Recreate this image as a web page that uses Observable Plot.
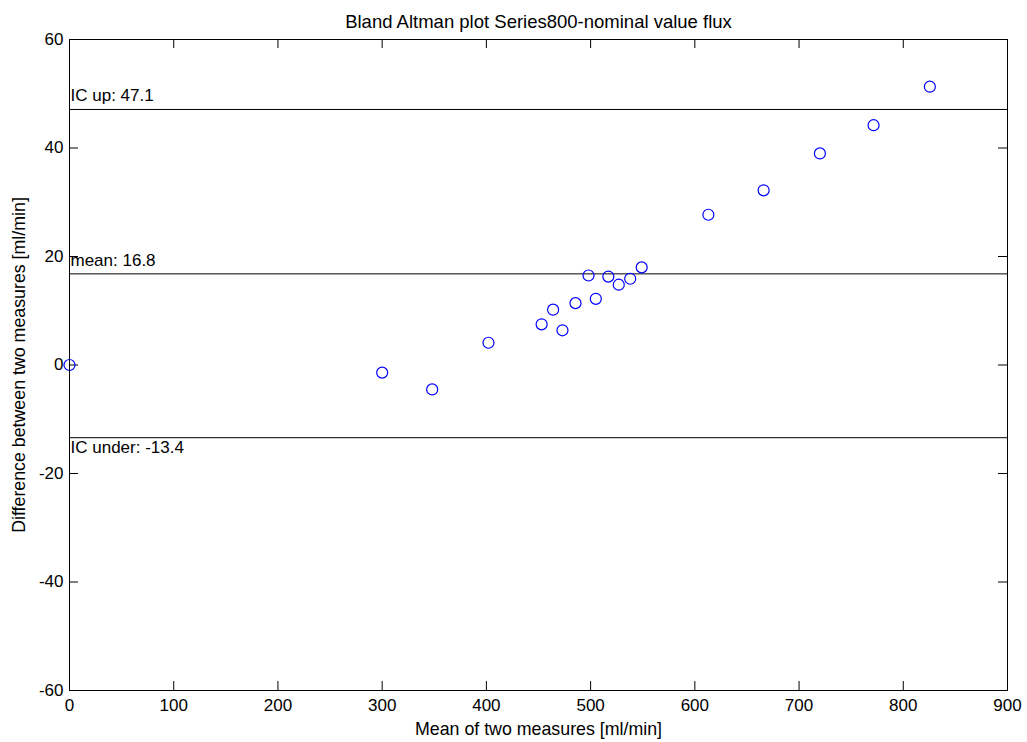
<!DOCTYPE html>
<html><head><meta charset="utf-8">
<script src="https://cdn.jsdelivr.net/npm/d3@7"></script>
<script src="https://cdn.jsdelivr.net/npm/@observablehq/plot@0.6"></script>
<style>body{margin:0;background:#fff}</style>
</head><body><div id="chart"></div>
<script>
const titleText = "Bland Altman plot Series800-nominal value flux";
const xLabel = "Mean of two measures [ml/min]";
const yLabel = "Difference between two measures [ml/min]";
const meanValues = [0, 300, 348, 402, 453, 464, 473, 485.5, 498, 505, 517, 527, 538, 549, 613, 666, 720, 771.5, 825.5];
const diffValues = [0, -1.4, -4.5, 4.1, 7.5, 10.2, 6.4, 11.4, 16.5, 12.2, 16.3, 14.8, 15.9, 18.0, 27.7, 32.2, 39.0, 44.2, 51.3];
const limitNames = ["IC up", "mean", "IC under"];
const limitValues = [47.1, 16.8, -13.4];
const xTicks = [0, 100, 200, 300, 400, 500, 600, 700, 800, 900];
const yTicks = [-60, -40, -20, 0, 20, 40, 60];

const W = 1027, H = 742, mL = 69, mR = 20, mT = 39, mB = 52;
const pw = W - mL - mR, ph = H - mT - mB, tk = 9;

const pts = meanValues.map((m, i) => ({m, d: diffValues[i]}));
const lims = limitNames.map((n, i) => ({label: `${n}: ${limitValues[i]}`, v: limitValues[i]}));

const font = "Liberation Sans, Arial, Helvetica, sans-serif";
const chart = Plot.plot({
  width: W, height: H,
  marginLeft: mL, marginRight: mR, marginTop: mT, marginBottom: mB,
  style: {fontFamily: font, fontSize: "17px", background: "#fff", color: "#000"},
  x: {domain: [0, 900], ticks: xTicks},
  y: {domain: [-60, 60], ticks: yTicks},
  marks: [
    Plot.axisX(xTicks, {tickSize: 0, tickPadding: 8, fontSize: 17, label: null, tickFormat: d => String(d)}),
    Plot.axisY(yTicks, {tickSize: 0, tickPadding: 6, fontSize: 17, label: null, tickFormat: d => String(d)}),
    Plot.tickX(xTicks, {x: d => d, insetTop: ph - tk, stroke: "#000"}),
    Plot.tickX(xTicks, {x: d => d, insetBottom: ph - tk, stroke: "#000"}),
    Plot.tickY(yTicks, {y: d => d, insetRight: pw - tk, stroke: "#000"}),
    Plot.tickY(yTicks, {y: d => d, insetLeft: pw - tk, stroke: "#000"}),
    Plot.ruleY(lims, {y: "v", stroke: "#000", strokeWidth: 1}),
    Plot.text(lims.filter(d => d.v > 0), {x: () => 0, y: "v", text: "label", textAnchor: "start", lineAnchor: "bottom", dy: -8, dx: 1, fontSize: 17}),
    Plot.text(lims.filter(d => d.v < 0), {x: () => 0, y: "v", text: "label", textAnchor: "start", lineAnchor: "top", dy: 3, dx: 1, fontSize: 17}),
    Plot.dot(pts, {x: "m", y: "d", r: 5.5, stroke: "#0000ff", fill: "none", strokeWidth: 1.2}),
    Plot.frame({stroke: "#000"}),
    Plot.text([titleText], {frameAnchor: "top", text: d => d, dy: -25, fontSize: 18.5}),
    Plot.text([xLabel], {frameAnchor: "bottom", text: d => d, dy: 44, fontSize: 17.8}),
    Plot.text([yLabel], {frameAnchor: "left", text: d => d, dx: -50, rotate: -90, textAnchor: "middle", fontSize: 17.8})
  ]
});
document.getElementById("chart").appendChild(chart);
</script>
</body></html>
